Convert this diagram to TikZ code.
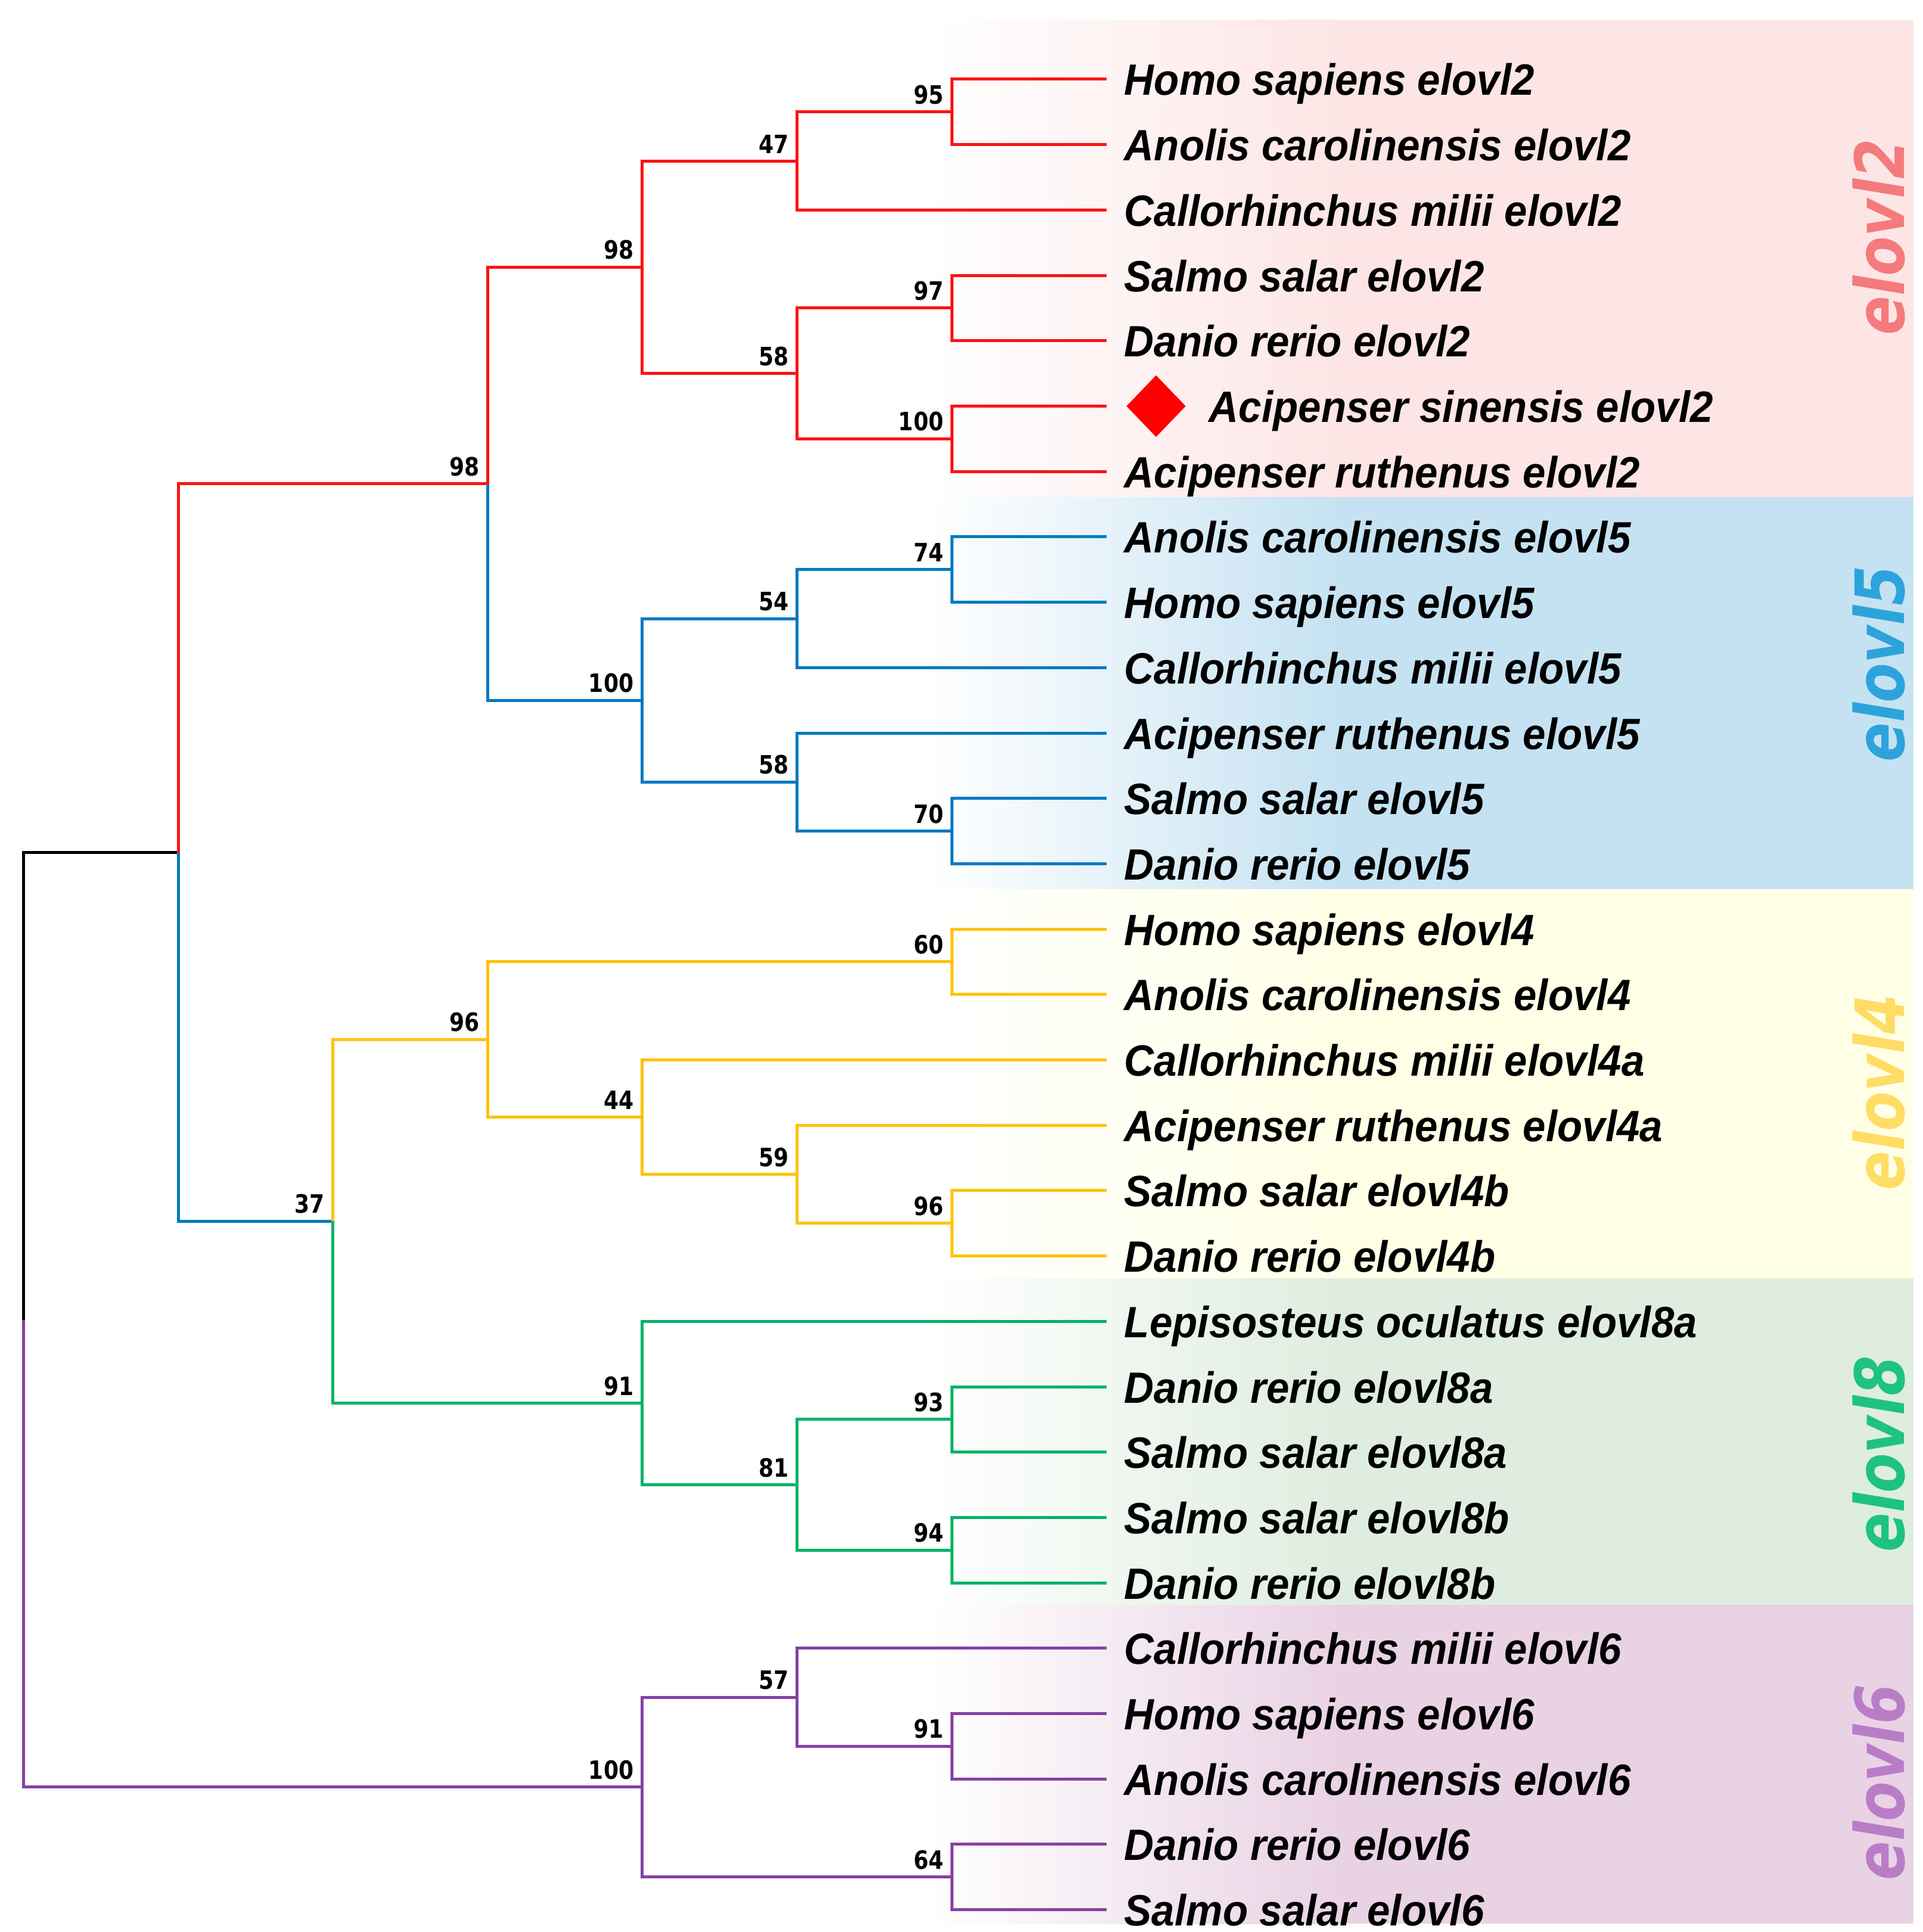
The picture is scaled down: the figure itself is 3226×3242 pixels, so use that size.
\documentclass[tikz,border=0pt]{standalone}
\usepackage{fontspec}
\usetikzlibrary{calc,shapes.geometric}
\setmainfont{Liberation Sans}
\newfontfamily\leaffam{Liberation Sans}[FakeStretch=0.94]
\newfontfamily\numfam{DejaVu Sans}[FakeStretch=0.85]
\newfontfamily\grpfam{DejaVu Sans}[FakeStretch=0.85]
\definecolor{cred}{RGB}{250,20,20}
\definecolor{cblue}{RGB}{0,122,192}
\definecolor{cyel}{RGB}{255,194,10}
\definecolor{cgreen}{RGB}{0,178,105}
\definecolor{cpurp}{RGB}{135,65,165}
\definecolor{bpink}{RGB}{253,229,229}
\definecolor{bblue}{RGB}{197,226,242}
\definecolor{byel}{RGB}{255,255,230}
\definecolor{bgreen}{RGB}{222,237,223}
\definecolor{bpurp}{RGB}{233,210,228}
\definecolor{gpink}{RGB}{244,122,124}
\definecolor{gblue}{RGB}{45,163,220}
\definecolor{gyel}{RGB}{255,220,100}
\definecolor{ggreen}{RGB}{30,195,125}
\definecolor{gpurp}{RGB}{185,125,200}
\newcommand\inode[4]{\path ($(#2)!0.5!(#3)$) coordinate (m#1); \coordinate (#1) at (m#1 -| X#4);}
\newcommand\edgeto[3]{\draw[branch,#1] (#2) |- (#3);}
\begin{document}
\begin{tikzpicture}[x=0.25pt,y=-0.25pt,
  branch/.style={line width=1.25pt},
  leaflbl/.style={anchor=base west,inner sep=0pt,font=\leaffam\bfseries\itshape\fontsize{18.4pt}{21pt}\selectfont},
  bslbl/.style={anchor=south east,inner sep=0pt,font=\numfam\bfseries\fontsize{10.6pt}{12pt}\selectfont},
  grplbl/.style={rotate=90,anchor=base,inner sep=0pt,font=\grpfam\bfseries\itshape\fontsize{28.5pt}{31pt}\selectfont}]
\useasboundingbox (0,0) rectangle (3226,3242);
% background bands
\shade[left color=white,right color=bpink] (1560,34) rectangle (2250,834);
\fill[bpink] (2249,34) rectangle (3211,834);
\shade[left color=white,right color=bblue] (1560,834) rectangle (2250,1492);
\fill[bblue] (2249,834) rectangle (3211,1492);
\shade[left color=white,right color=byel] (1560,1492) rectangle (2250,2145);
\fill[byel] (2249,1492) rectangle (3211,2145);
\shade[left color=white,right color=bgreen] (1560,2145) rectangle (2250,2693);
\fill[bgreen] (2249,2145) rectangle (3211,2693);
\shade[left color=white,right color=bpurp] (1560,2693) rectangle (2250,3228);
\fill[bpurp] (2249,2693) rectangle (3211,3228);
% levels
\coordinate (X0) at (39,0);
\coordinate (X1) at (299,0);
\coordinate (X2) at (558,0);
\coordinate (X3) at (818,0);
\coordinate (X4) at (1077,0);
\coordinate (X5) at (1337,0);
\coordinate (X6) at (1597,0);
\foreach \i in {0,...,28} { \coordinate (L\i) at (1857,{133+109.7*\i}); }
% internal nodes
\inode{a95}{L0}{L1}{6}
\inode{a47}{a95}{L2}{5}
\inode{a97}{L3}{L4}{6}
\inode{a100}{L5}{L6}{6}
\inode{a58}{a97}{a100}{5}
\inode{a98}{a47}{a58}{4}
\inode{b74}{L7}{L8}{6}
\inode{b54}{b74}{L9}{5}
\inode{b70}{L11}{L12}{6}
\inode{b58}{L10}{b70}{5}
\inode{b100}{b54}{b58}{4}
\inode{n98}{a98}{b100}{3}
\inode{c60}{L13}{L14}{6}
\inode{c96b}{L17}{L18}{6}
\inode{c59}{L16}{c96b}{5}
\inode{c44}{L15}{c59}{4}
\inode{c96a}{c60}{c44}{3}
\inode{d93}{L20}{L21}{6}
\inode{d94}{L22}{L23}{6}
\inode{d81}{d93}{d94}{5}
\inode{d91}{L19}{d81}{4}
\inode{n37}{c96a}{d91}{2}
\inode{top}{n98}{n37}{1}
\inode{e91}{L25}{L26}{6}
\inode{e57}{L24}{e91}{5}
\inode{e64}{L27}{L28}{6}
\inode{e100}{e57}{e64}{4}
\inode{root}{top}{e100}{0}
% branches
\edgeto{black}{root}{top}
\edgeto{cpurp}{root}{e100}
\edgeto{cred}{top}{n98}
\edgeto{cblue}{top}{n37}
\edgeto{cred}{n98}{a98}
\edgeto{cblue}{n98}{b100}
\edgeto{cyel}{n37}{c96a}
\edgeto{cgreen}{n37}{d91}
% elovl2
\edgeto{cred}{a98}{a47}
\edgeto{cred}{a98}{a58}
\edgeto{cred}{a47}{a95}
\edgeto{cred}{a47}{L2}
\edgeto{cred}{a95}{L0}
\edgeto{cred}{a95}{L1}
\edgeto{cred}{a58}{a97}
\edgeto{cred}{a58}{a100}
\edgeto{cred}{a97}{L3}
\edgeto{cred}{a97}{L4}
\edgeto{cred}{a100}{L5}
\edgeto{cred}{a100}{L6}
% elovl5
\edgeto{cblue}{b100}{b54}
\edgeto{cblue}{b100}{b58}
\edgeto{cblue}{b54}{b74}
\edgeto{cblue}{b54}{L9}
\edgeto{cblue}{b74}{L7}
\edgeto{cblue}{b74}{L8}
\edgeto{cblue}{b58}{L10}
\edgeto{cblue}{b58}{b70}
\edgeto{cblue}{b70}{L11}
\edgeto{cblue}{b70}{L12}
% elovl4
\edgeto{cyel}{c96a}{c60}
\edgeto{cyel}{c96a}{c44}
\edgeto{cyel}{c60}{L13}
\edgeto{cyel}{c60}{L14}
\edgeto{cyel}{c44}{L15}
\edgeto{cyel}{c44}{c59}
\edgeto{cyel}{c59}{L16}
\edgeto{cyel}{c59}{c96b}
\edgeto{cyel}{c96b}{L17}
\edgeto{cyel}{c96b}{L18}
% elovl8
\edgeto{cgreen}{d91}{L19}
\edgeto{cgreen}{d91}{d81}
\edgeto{cgreen}{d81}{d93}
\edgeto{cgreen}{d81}{d94}
\edgeto{cgreen}{d93}{L20}
\edgeto{cgreen}{d93}{L21}
\edgeto{cgreen}{d94}{L22}
\edgeto{cgreen}{d94}{L23}
% elovl6
\edgeto{cpurp}{e100}{e57}
\edgeto{cpurp}{e100}{e64}
\edgeto{cpurp}{e57}{L24}
\edgeto{cpurp}{e57}{e91}
\edgeto{cpurp}{e91}{L25}
\edgeto{cpurp}{e91}{L26}
\edgeto{cpurp}{e64}{L27}
\edgeto{cpurp}{e64}{L28}
% bootstrap values
\foreach \n/\v in {a95/95,a47/47,a97/97,a100/100,a58/58,a98/98,n98/98,b74/74,b54/54,b70/70,b58/58,b100/100,c60/60,c96b/96,c59/59,c44/44,c96a/96,n37/37,d93/93,d94/94,d81/81,d91/91,e91/91,e57/57,e64/64,e100/100}
  { \node[bslbl] (t\n) at ($(\n)+(-13,-12)$) {\v}; }
% leaf labels
\foreach \i/\t in {0/Homo sapiens elovl2,1/Anolis carolinensis elovl2,2/Callorhinchus milii elovl2,3/Salmo salar elovl2,4/Danio rerio elovl2,6/Acipenser ruthenus elovl2,7/Anolis carolinensis elovl5,8/Homo sapiens elovl5,9/Callorhinchus milii elovl5,10/Acipenser ruthenus elovl5,11/Salmo salar elovl5,12/Danio rerio elovl5,13/Homo sapiens elovl4,14/Anolis carolinensis elovl4,15/Callorhinchus milii elovl4a,16/Acipenser ruthenus elovl4a,17/Salmo salar elovl4b,18/Danio rerio elovl4b,19/Lepisosteus oculatus elovl8a,20/Danio rerio elovl8a,21/Salmo salar elovl8a,22/Salmo salar elovl8b,23/Danio rerio elovl8b,24/Callorhinchus milii elovl6,25/Homo sapiens elovl6,26/Anolis carolinensis elovl6,27/Danio rerio elovl6,28/Salmo salar elovl6}
  { \node[leaflbl] (T\i) at ($(L\i)+(29,27)$) {\t}; }
\node[diamond,fill=red,inner sep=0pt,minimum width=25pt,minimum height=26pt] (dia) at ($(L5)+(83,0)$) {};
\node[leaflbl] (T5) at ($(L5)+(171,27)$) {Acipenser sinensis elovl2};
% group labels
\node[grplbl,text=gpink] (g2) at (3195,398) {elovl2};
\node[grplbl,text=gblue] (g5) at (3195,1114) {elovl5};
\node[grplbl,text=gyel] (g4) at (3195,1833) {elovl4};
\node[grplbl,text=ggreen] (g8) at (3195,2440) {elovl8};
\node[grplbl,text=gpurp] (g6) at (3195,2991) {elovl6};
\end{tikzpicture}
\end{document}
